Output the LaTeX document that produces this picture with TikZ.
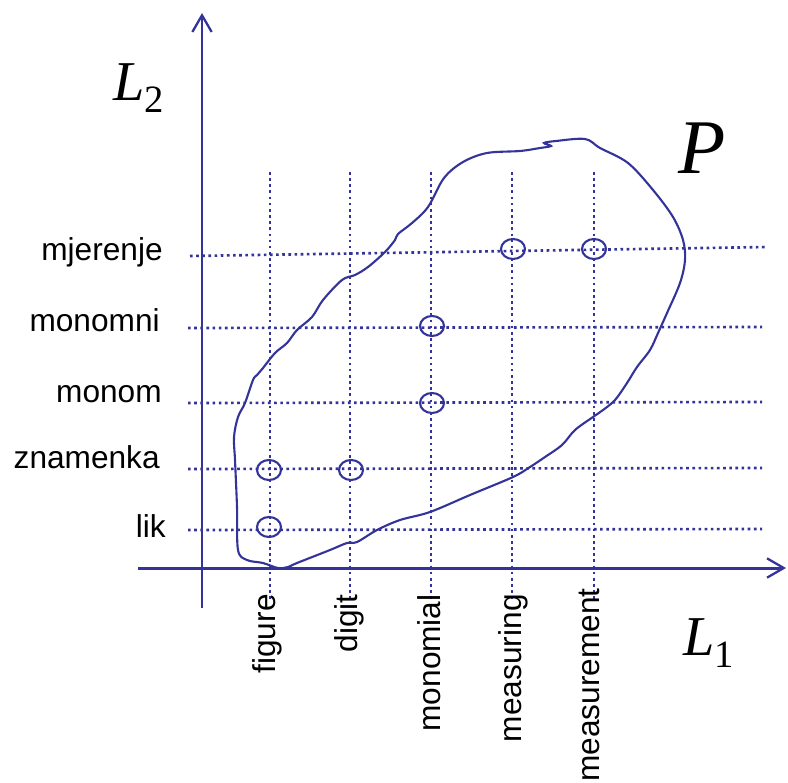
\documentclass[tikz,border=0pt]{standalone}
\usepackage{fontspec}
\setmainfont{Liberation Sans}
\newfontfamily\timesfont{Liberation Serif}
\usepackage{tikz}
\usetikzlibrary{arrows.meta}
\definecolor{penblue}{RGB}{51,51,153}

\tikzset{
  axis/.style={penblue, line width=1.7pt,
    -{Straight Barb[length=9.5pt,width=11pt,line width=1.3pt]}},
  gridline/.style={penblue, line width=1.5pt, dash pattern=on 1.5pt off 2pt},
  hit/.style={penblue, line width=1.2pt},
  word/.style={font=\fontsize{18}{20}\selectfont, inner sep=0pt},
  bigsym/.style={font=\timesfont\itshape, inner sep=0pt}
}

\begin{document}
\begin{tikzpicture}[x=0.2mm,y=-0.2mm]
  \useasboundingbox (0,0) rectangle (788,782);

  % dotted grid
  \foreach \gx in {270,350,431,512,594}
    \draw[gridline] (\gx,172) -- (\gx,600);
  \draw[gridline] (190,256) -- (768,247);
  \foreach \gy in {328,403,469,530}
    \draw[gridline] (188,\gy) -- (762,\gy-1);

  % the set P
  \draw[hit] plot[smooth cycle, tension=0.55] coordinates {
    (278,568) (263,563) (247,560) (238,550) (237,507) (235,460) (234,437)
    (238,417) (245,403) (253,380) (257,375) (263,368) (275,353) (287,343)
    (297,330) (312,317) (323,300) (342,280) (355,275) (368,267) (385,252)
    (395,240) (398,234) (412,223) (428,207) (444,178) (463,162) (487,153)
    (520,151) (540,148) (551,146) (544,143) (556,141) (585,139) (600,148)
    (628,163) (653,190) (673,217) (683,240) (685,260) (680,283) (667,313)
    (658,333) (650,350) (637,367) (627,383) (615,400) (603,410) (593,417)
    (575,430) (562,445) (545,457) (530,467) (513,477) (470,495) (430,512)
    (400,520) (377,530) (357,542) (347,543) (330,550) (297,563) (288,567)};

  % hits
  \foreach \hx/\hy in {269/470, 351/470, 269/527, 432/403, 432/326, 513/249, 594/249}
    \draw[hit] (\hx,\hy) ellipse (12 and 10);

  % axes
  \coordinate (xstart) at (138,568);
  \coordinate (xend) at (786,568);
  \coordinate (ystart) at (202,608);
  \coordinate (yend) at (202,13);
  \draw[axis] (xstart) -- (xend);
  \draw[axis] (ystart) -- (yend);

  % L2 words
  \node[word, anchor=base east] (mjerenje) at (163,260) {mjerenje};
  \node[word, anchor=base east] (monomni) at (160,331) {monomni};
  \node[word, anchor=base east] (monom) at (162,402) {monom};
  \node[word, anchor=base east] (znamenka) at (160,468) {znamenka};
  \node[word, anchor=base east] (lik) at (166,537) {lik};

  % L1 words
  \node[word, rotate=90, anchor=base east] (figure) at (275,594) {figure};
  \node[word, rotate=90, anchor=base east] (digit) at (357,594) {digit};
  \node[word, rotate=90, anchor=base east] (monomial) at (440,594) {monomial};
  \node[word, rotate=90, anchor=base east] (measuring) at (521,594) {measuring};
  \node[word, rotate=90, anchor=base east] (measurement) at (599,588) {measurement};

  % axis names
  \node[bigsym, anchor=base west] (Ltwo) at (113,100)
    {\fontsize{32}{32}\selectfont L\raisebox{-0.22em}{\upshape\fontsize{22}{22}\selectfont 2}};
  \node[bigsym, anchor=base west] (Lone) at (683,655)
    {\fontsize{32}{32}\selectfont L\raisebox{-0.22em}{\upshape\fontsize{22}{22}\selectfont 1}};
  \node[bigsym, anchor=base west] (P) at (678,173) {\fontsize{44}{44}\selectfont P};
\end{tikzpicture}
\end{document}
